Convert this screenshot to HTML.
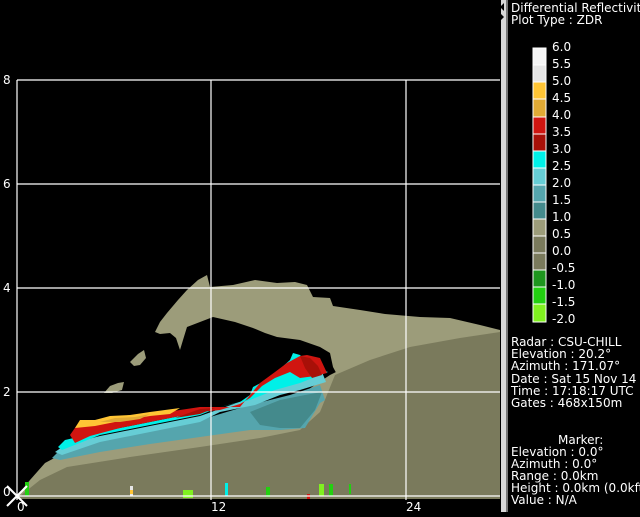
<!DOCTYPE html>
<html><head><style>
body{margin:0;background:#000;width:640px;height:512px;overflow:hidden}
svg text{font-family:"DejaVu Sans","Liberation Sans",sans-serif;fill:#fff}
</style></head><body>
<svg width="640" height="512" viewBox="0 0 640 512" xmlns="http://www.w3.org/2000/svg">
<rect width="640" height="512" fill="#000"/>
<!-- upper arc -->
<polygon fill="#9c9c7a" points="155,332 160,322 167,313 178,300 187,290 198,280 207,275 210,287 233,285 255,280 277,283 295,282 307,285 313,297 330,298 333,306 360,310 385,314 420,317 450,318 480,325 500,330 500,345 440,352 400,360 360,375 340,380 333,367 330,353 320,347 300,340 277,337 265,333 253,328 235,322 213,317 200,322 187,327 183,340 180,350 176,338 170,333 160,334"/>
<polygon fill="#9c9c7a" points="130,362 138,354 144,350 146,358 140,365 134,366"/>
<polygon fill="#9c9c7a" points="104,393 110,386 118,383 124,382 122,390 112,393"/>
<!-- khaki main -->
<polygon fill="#9c9c7a" points="17,496 30,480 45,463 60,455 120,440 200,425 250,410 300,395 330,375 340,370 400,355 460,340 500,330 500,499 17,499"/>
<!-- olive base -->
<polygon fill="#7a7a5c" points="20,496 40,480 67,467 130,457 200,447 260,438 300,430 320,412 335,375 370,360 410,347 460,338 500,332 500,499 20,499"/>
<!-- teal band -->
<polygon fill="#55a5ad" points="52,458 60,450 100,440 150,430 200,420 250,405 290,395 320,385 325,400 320,403 305,428 280,430 250,430 200,437 150,444 100,452 60,460"/>
<polygon fill="#448a8c" points="250,412 280,400 305,395 322,392 315,410 300,428 280,428 260,425"/>
<!-- light cyan -->
<polygon fill="#66cdd5" points="55,452 65,445 100,436 150,426 200,416 245,400 275,385 300,375 322,372 326,382 300,390 280,395 255,405 220,412 200,422 150,432 100,442 62,455"/>
<!-- bright cyan -->
<polygon fill="#00f0e8" points="58,447 65,440 100,432 150,422 200,412 240,402 250,395 253,387 270,378 290,360 293,353 300,355 310,366 328,372 300,383 275,390 250,400 220,407 200,415 150,425 100,435 62,450"/>
<!-- red -->
<polygon fill="#d01510" points="70,435 77,425 100,422 130,417 160,413 200,407 240,407 250,395 260,383 275,372 287,363 300,356 307,355 320,358 327,373 315,376 300,378 290,372 275,378 262,386 250,398 240,404 220,410 200,412 160,420 120,428 90,436 75,443"/>
<polygon fill="#a81008" points="300,356 310,358 318,366 322,375 312,378 305,368"/>
<polygon fill="#a81008" points="175,418 200,409 215,408 200,414"/>
<!-- orange/gold -->
<polygon fill="#ffc535" points="75,428 80,420 95,420 110,416 130,415 150,412 165,410 180,408 170,414 150,416 120,421 95,426"/>
<polygon fill="#e0aa35" points="100,422 115,418 135,417 150,414 140,419 120,422"/>
<!-- ground clutter specks -->
<g>
<rect x="25" y="482" width="4" height="14" fill="#22d010"/>
<rect x="130" y="486" width="3" height="10" fill="#e6e6e6"/>
<rect x="130" y="490" width="3" height="4" fill="#ffc535"/>
<rect x="183" y="490" width="10" height="8" fill="#80f020"/>
<rect x="225" y="483" width="3" height="13" fill="#00f0e8"/>
<rect x="266" y="487" width="4" height="10" fill="#22d010"/>
<rect x="319" y="484" width="5" height="12" fill="#80f020"/>
<rect x="329" y="484" width="4" height="12" fill="#22d010"/>
<rect x="307" y="494" width="3" height="5" fill="#d01510"/>
<rect x="349" y="484" width="2" height="10" fill="#22d010"/>
</g>
<!-- grid -->
<g stroke="#fff" stroke-width="1.2" fill="none">
<line x1="17" y1="80" x2="500" y2="80"/>
<line x1="17" y1="184" x2="500" y2="184"/>
<line x1="17" y1="288" x2="500" y2="288"/>
<line x1="17" y1="392" x2="500" y2="392"/>
<line x1="17" y1="496" x2="500" y2="496"/>
<line x1="17" y1="80" x2="17" y2="500"/>
<line x1="211" y1="80" x2="211" y2="500"/>
<line x1="406" y1="80" x2="406" y2="500"/>
<line x1="7" y1="486" x2="27" y2="506" stroke-width="2"/>
<line x1="7" y1="506" x2="27" y2="486" stroke-width="2"/>
</g>
<g font-size="12">
<text x="3" y="84">8</text><text x="3" y="188">6</text><text x="3" y="292">4</text><text x="3" y="396">2</text><text x="3" y="496">0</text>
<text x="17" y="511">0</text><text x="211" y="511">12</text><text x="406" y="511">24</text>
</g>
<!-- side strip -->
<rect x="501" y="0" width="5" height="512" fill="#d8d8d8"/>
<rect x="506" y="0" width="2" height="512" fill="#777"/>
<polygon points="504,3 504,11 500,7" fill="#000"/>
<polygon points="500,13 500,21 504,17" fill="#000"/>
<g font-size="12">
<text x="511" y="12">Differential Reflectivity</text>
<text x="511" y="24">Plot Type : ZDR</text>
</g>
<!-- colorbar -->
<g stroke="#fff" stroke-width="1">
<rect x="533" y="48" width="13" height="17" fill="#f5f5f5"/>
<rect x="533" y="65" width="13" height="17" fill="#e6e6e6"/>
<rect x="533" y="82" width="13" height="17" fill="#ffc535"/>
<rect x="533" y="99" width="13" height="18" fill="#e0aa35"/>
<rect x="533" y="117" width="13" height="17" fill="#d01510"/>
<rect x="533" y="134" width="13" height="17" fill="#a81008"/>
<rect x="533" y="151" width="13" height="17" fill="#00f0e8"/>
<rect x="533" y="168" width="13" height="17" fill="#66cdd5"/>
<rect x="533" y="185" width="13" height="17" fill="#55a5ad"/>
<rect x="533" y="202" width="13" height="17" fill="#448a8c"/>
<rect x="533" y="219" width="13" height="17" fill="#9c9c7a"/>
<rect x="533" y="236" width="13" height="17" fill="#7a7a5c"/>
<rect x="533" y="253" width="13" height="17" fill="#7a7a5c"/>
<rect x="533" y="270" width="13" height="17" fill="#1e961e"/>
<rect x="533" y="287" width="13" height="17" fill="#22d010"/>
<rect x="533" y="304" width="13" height="18" fill="#80f020"/>
</g>
<g font-size="12">
<text x="552" y="51">6.0</text><text x="552" y="68">5.5</text><text x="552" y="85">5.0</text><text x="552" y="102">4.5</text>
<text x="552" y="119">4.0</text><text x="552" y="136">3.5</text><text x="552" y="153">3.0</text><text x="552" y="170">2.5</text>
<text x="552" y="187">2.0</text><text x="552" y="204">1.5</text><text x="552" y="221">1.0</text><text x="552" y="238">0.5</text>
<text x="552" y="255">0.0</text><text x="552" y="272">-0.5</text><text x="552" y="289">-1.0</text><text x="552" y="306">-1.5</text>
<text x="552" y="323">-2.0</text>
</g>
<g font-size="12">
<text x="511" y="346">Radar : CSU-CHILL</text>
<text x="511" y="358">Elevation : 20.2°</text>
<text x="511" y="370">Azimuth : 171.07°</text>
<text x="511" y="383">Date : Sat 15 Nov 14</text>
<text x="511" y="395">Time : 17:18:17 UTC</text>
<text x="511" y="407">Gates : 468x150m</text>
<text x="558" y="444">Marker:</text>
<text x="511" y="456">Elevation : 0.0°</text>
<text x="511" y="468">Azimuth : 0.0°</text>
<text x="511" y="480">Range : 0.0km</text>
<text x="511" y="492">Height : 0.0km (0.0kft)</text>
<text x="511" y="504">Value : N/A</text>
</g>
</svg>
</body></html>
